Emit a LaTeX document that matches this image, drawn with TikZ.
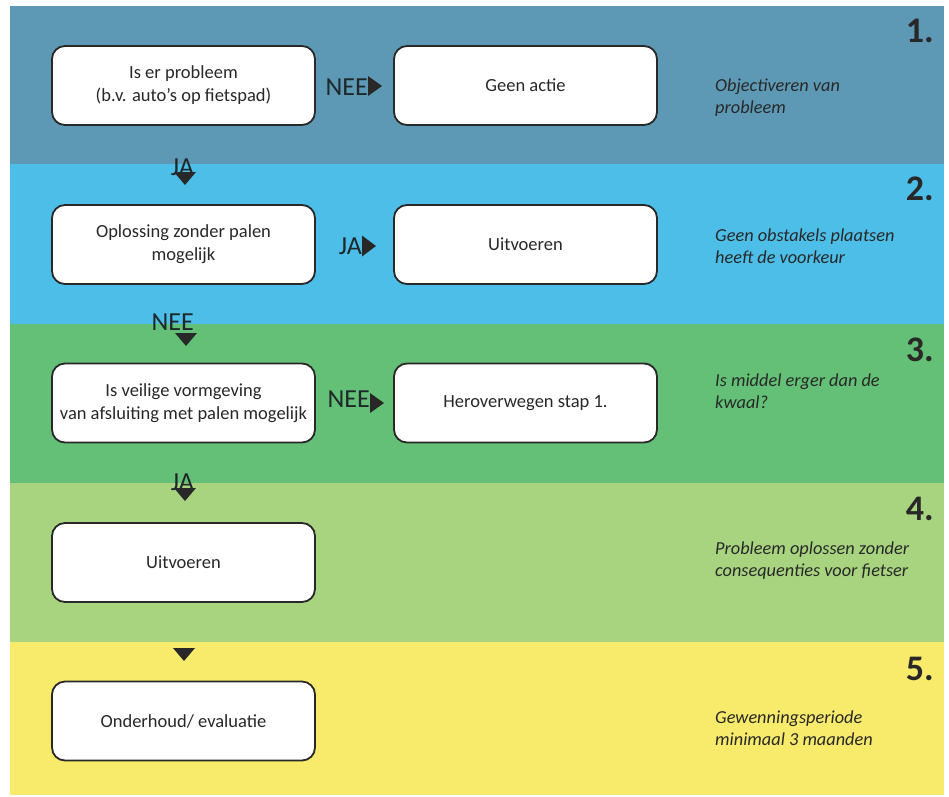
\documentclass[tikz,border=0pt]{standalone}
\usepackage{fontspec}
\setmainfont{Carlito}
\usetikzlibrary{calc}
\definecolor{bandA}{RGB}{93,153,181}
\definecolor{bandB}{RGB}{76,190,232}
\definecolor{bandC}{RGB}{99,192,118}
\definecolor{bandD}{RGB}{168,212,128}
\definecolor{bandE}{RGB}{248,234,106}
\definecolor{ink}{RGB}{40,40,40}
\definecolor{labelink}{RGB}{30,40,42}
\tikzset{
  box/.style={draw=ink, line width=1.8pt, fill=white, rounded corners=13pt,
    minimum width=263pt, minimum height=79pt, inner sep=2pt, align=center,
    text=ink, font=\fontsize{18.5}{23}\selectfont},
  note/.style={anchor=west, align=left, text=ink, inner sep=0pt,
    font=\fontsize{18.3}{22}\selectfont\itshape},
  num/.style={anchor=base east, inner sep=0pt, text=ink,
    font=\fontsize{36}{36}\selectfont\bfseries},
  lab/.style={anchor=base east, inner sep=0pt, text=labelink,
    font=\fontsize{26}{26}\selectfont},
  tri/.style={fill=ink}
}
\begin{document}
\begin{tikzpicture}[x=1pt,y=-1pt]
\useasboundingbox (0,0) rectangle (949,796);
% bands
\fill[bandA] (10,6) rectangle (944,164);
\fill[bandB] (10,164) rectangle (944,324);
\fill[bandC] (10,324) rectangle (944,483);
\fill[bandD] (10,483) rectangle (944,642);
\fill[bandE] (10,642) rectangle (944,795);
% boxes
\node[box] (b1) at (183.5,85.5) {Is er probleem\\(b.v. auto’s op fietspad)};
\node[box] (r1) at (525.5,85.5) {Geen actie};
\node[box] (b2) at (183.5,244.5) {Oplossing zonder palen\\mogelijk};
\node[box] (r2) at (525.5,244.5) {Uitvoeren};
\node[box] (b3) at (183.5,403) {Is veilige vormgeving\\van afsluiting met palen mogelijk};
\node[box] (r3) at (525.5,403) {Heroverwegen stap 1.};
\node[box] (b4) at (183.5,562.5) {Uitvoeren};
\node[box] (b5) at (183.5,721) {Onderhoud/ evaluatie};
% numbers
\node[num] (n1) at (934,42) {1.};
\node[num] (n2) at (934,200) {2.};
\node[num] (n3) at (934,361) {3.};
\node[num] (n4) at (934,520) {4.};
\node[num] (n5) at (934,680) {5.};
% notes
\node[note] (t1) at (715,98) {Objectiveren van\\probleem};
\node[note] (t2) at (715,246) {Geen obstakels plaatsen\\heeft de voorkeur};
\node[note] (t3) at (715,391) {Is middel erger dan de\\kwaal?};
\node[note] (t4) at (715,561) {Probleem oplossen zonder\\consequenties voor fietser};
\node[note] (t5) at (715,728) {Gewenningsperiode\\minimaal 3 maanden};
% horizontal connectors (label + triangle)
\coordinate (h1) at (368,86);
\coordinate (h2) at (362,246);
\coordinate (h3) at (370,403);
\node[lab] (l1) at ($(h1)+(0,9.5)$) {NEE};
\node[lab] (l2) at ($(h2)+(0,8)$) {JA};
\node[lab] (l3) at ($(h3)+(0,4)$) {NEE};
\fill[tri] (h1) ++(0,-10) -- ++(14,10) -- ++(-14,10) -- cycle;
\fill[tri] (h2) ++(0,-10.5) -- ++(14,10.5) -- ++(-14,10.5) -- cycle;
\fill[tri] (h3) ++(0,-10) -- ++(14,10) -- ++(-14,10) -- cycle;
% vertical connectors (label + triangle)
\coordinate (v1) at (185,172);
\coordinate (v2) at (186,333);
\coordinate (v3) at (185,488);
\coordinate (v4) at (184,648);
\node[lab] (l4) at (194,175) {JA};
\node[lab] (l5) at (194,330) {NEE};
\node[lab] (l6) at (194,490) {JA};
\fill[tri] (v1) ++(-11,0) -- ++(22,0) -- ++(-11,13) -- cycle;
\fill[tri] (v2) ++(-11,0) -- ++(22,0) -- ++(-11,13) -- cycle;
\fill[tri] (v3) ++(-11,0) -- ++(22,0) -- ++(-11,13) -- cycle;
\fill[tri] (v4) ++(-11,0) -- ++(22,0) -- ++(-11,13) -- cycle;
\end{tikzpicture}
\end{document}
